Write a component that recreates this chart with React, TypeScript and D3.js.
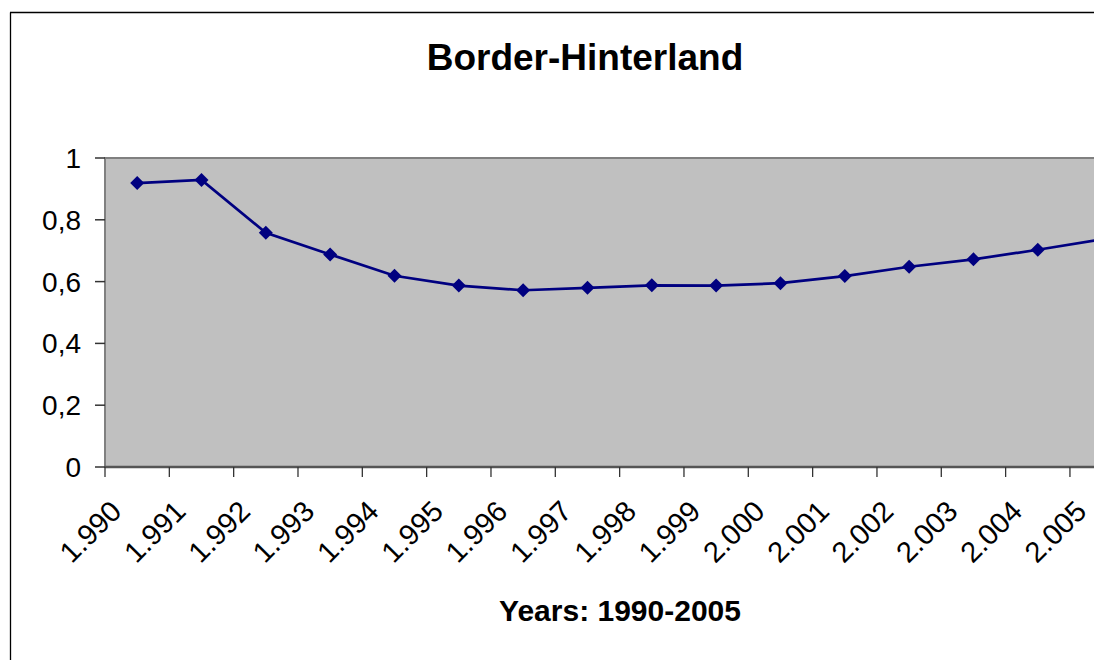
import React from "react";
import * as d3 from "d3";

const years = ["1.990","1.991","1.992","1.993","1.994","1.995","1.996","1.997","1.998","1.999","2.000","2.001","2.002","2.003","2.004","2.005"];
const values = [0.919,0.929,0.758,0.688,0.619,0.587,0.572,0.580,0.588,0.587,0.595,0.618,0.648,0.672,0.703,0.737];
const yTicks = [0,0.2,0.4,0.6,0.8,1];
const title = "Border-Hinterland";
const xTitle = "Years: 1990-2005";

const W = 1094, H = 660;
const FONT = "'Liberation Sans', Arial, sans-serif";

export default function App() {
  const left = 105, top = 158, bottom = 467;
  const band = 64.33;
  const x = d3.scaleBand<string>().domain(years).range([left, left + band * years.length]).paddingInner(0).paddingOuter(0);
  const y = d3.scaleLinear().domain([0, 1]).range([bottom, top]);
  const cx = (i: number) => (x(years[i]) as number) + x.bandwidth() / 2;
  const line = d3.line<number>().x((_, i) => cx(i)).y((v) => y(v));
  const plotRight = left + band * years.length;
  const s = 7;
  const diamond = `M0,${-s}L${s},0L0,${s}L${-s},0Z`;
  const fmt = (v: number) => String(v).replace(".", ",");
  return (
    <svg width={W} height={H} style={{ position: "absolute", left: 0, top: 0, overflow: "hidden", background: "#fff" }} fontFamily={FONT}>
      <rect x={0} y={0} width={W} height={H} fill="#fff" />
      <line x1={10.5} y1={12.5} x2={10.5} y2={H} stroke="#000" strokeWidth={1.3} />
      <line x1={10} y1={12.5} x2={W} y2={12.5} stroke="#000" strokeWidth={1.3} />
      <text x={585} y={70} textAnchor="middle" fontWeight="bold" fontSize={37} fill="#000">{title}</text>
      <rect x={left} y={top} width={plotRight - left} height={bottom - top} fill="#C0C0C0" stroke="#808080" strokeWidth={2} />
      <line x1={left} y1={top} x2={left} y2={bottom} stroke="#808080" strokeWidth={2} />
      <line x1={left} y1={bottom} x2={plotRight} y2={bottom} stroke="#555" strokeWidth={2.5} />
      {yTicks.map((t) => (
        <g key={t}>
          <line x1={95} x2={left} y1={y(t)} y2={y(t)} stroke="#333" strokeWidth={1.5} />
          <text x={81} y={y(t) + 10} textAnchor="end" fontSize={28} fill="#000">{fmt(t)}</text>
        </g>
      ))}
      {years.map((yr, i) => (
        <g key={yr}>
          <line x1={(x(yr) as number)} x2={(x(yr) as number)} y1={bottom} y2={bottom + 10} stroke="#333" strokeWidth={1.3} />
          <text transform={`translate(${cx(i) - 14},${bottom + 46}) rotate(-45)`} textAnchor="end" fontSize={29} fill="#000">{yr}</text>
        </g>
      ))}
      <line x1={plotRight} x2={plotRight} y1={bottom} y2={bottom + 10} stroke="#333" strokeWidth={1.3} />
      <path d={line(values) || ""} fill="none" stroke="#000080" strokeWidth={2.7} />
      {values.map((v, i) => (
        <path key={i} d={diamond} transform={`translate(${cx(i)},${y(v)})`} fill="#000080" />
      ))}
      <text x={620} y={621} textAnchor="middle" fontWeight="bold" fontSize={30} fill="#000">{xTitle}</text>
    </svg>
  );
}
